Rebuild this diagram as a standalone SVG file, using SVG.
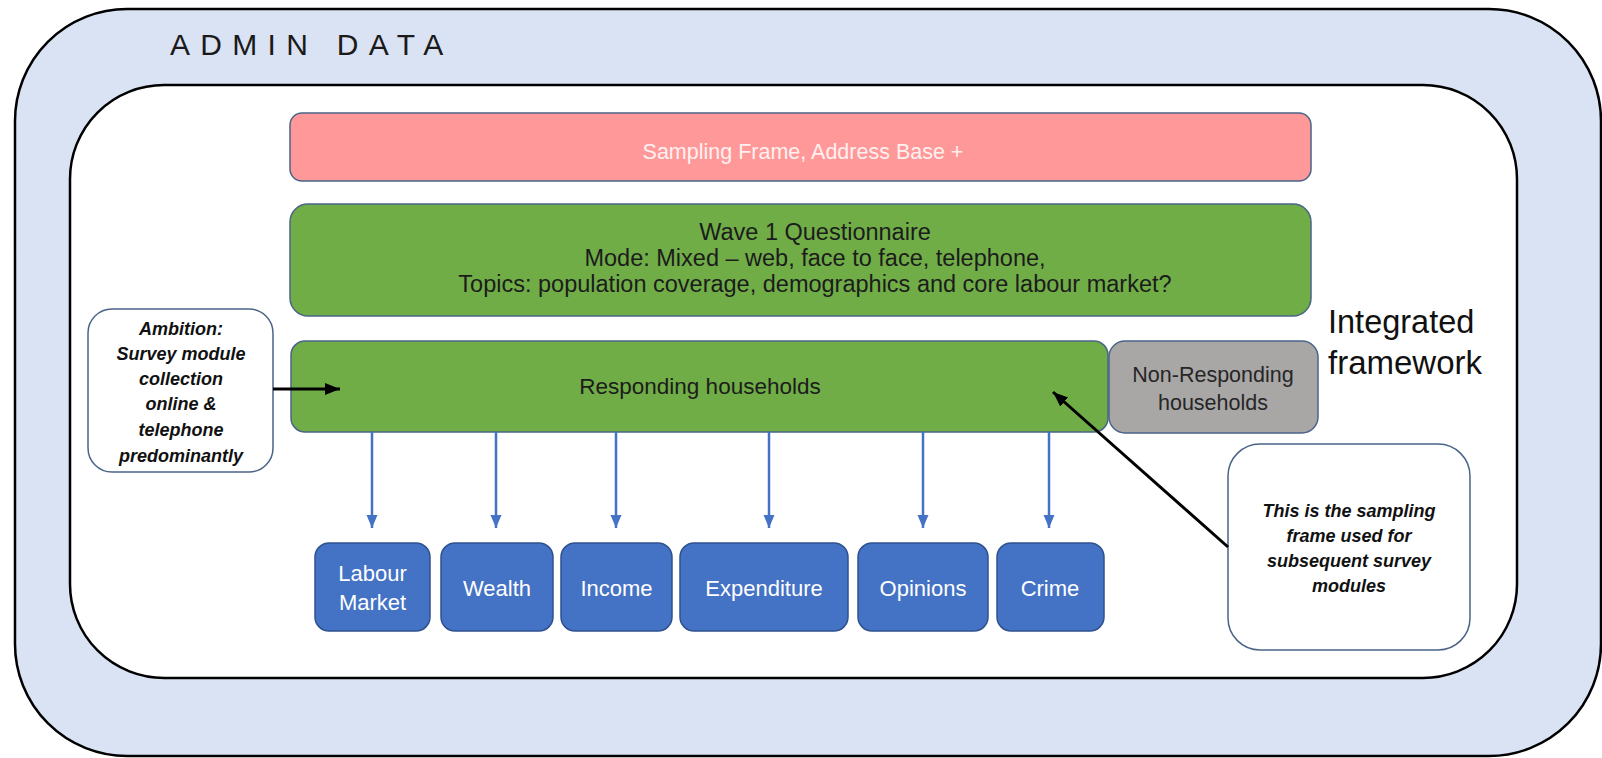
<svg xmlns="http://www.w3.org/2000/svg" width="1602" height="758" viewBox="0 0 1602 758">
<style>
.txt{font-family:"Liberation Sans",Arial,sans-serif}
.bar{stroke:#4a6488;stroke-width:1.5}
.mod{fill:#4472c4;stroke:#2f528f;stroke-width:1.5}
.modt{font-family:"Liberation Sans",Arial,sans-serif;font-size:22px;fill:#ffffff;text-anchor:middle}
.note{fill:#ffffff;stroke:#4a6488;stroke-width:1.5}
.notet{font-family:"Liberation Sans",Arial,sans-serif;font-size:18px;font-weight:bold;font-style:italic;fill:#111;text-anchor:middle}
.blue{stroke:#4472c4;stroke-width:2.5;fill:none}
.blk{stroke:#000;stroke-width:3;fill:none}
</style>
<defs>
<marker id="ab" markerUnits="userSpaceOnUse" markerWidth="14" markerHeight="14" viewBox="0 0 14 14" refX="13" refY="7" orient="auto">
<path d="M0,1.5 L13,7 L0,12.5 Z" fill="#4472c4"/>
</marker>
<marker id="ak" markerUnits="userSpaceOnUse" markerWidth="16" markerHeight="16" viewBox="0 0 16 16" refX="15" refY="8" orient="auto">
<path d="M0,2 L15,8 L0,14 Z" fill="#000"/>
</marker>
</defs>

<g id="admin-data">
<rect x="15" y="9" width="1586" height="747" rx="112" ry="112" fill="#dae3f3" stroke="#000" stroke-width="2.5"/>
<text class="txt" x="170" y="55" font-size="30" letter-spacing="10.3" fill="#1a1a1a">ADMIN DATA</text>
</g>

<g id="integrated-framework">
<rect x="70" y="85" width="1447" height="593" rx="94" ry="94" fill="#ffffff" stroke="#000" stroke-width="2.5"/>
<text class="txt" x="1328" y="333" font-size="32.5" fill="#111">Integrated</text>
<text class="txt" x="1328" y="374" font-size="33" fill="#111">framework</text>
</g>

<g id="sampling-frame">
<rect class="bar" x="290" y="113" width="1021" height="68" rx="12" fill="#ff9999"/>
<text class="txt" x="803" y="159" font-size="21.5" fill="#fff0f0" text-anchor="middle">Sampling Frame, Address Base +</text>
</g>

<g id="wave1">
<rect class="bar" x="290" y="204" width="1021" height="112" rx="18" fill="#70ad47"/>
<text class="txt" x="815" y="240" font-size="23.5" fill="#1c1c1c" text-anchor="middle">Wave 1 Questionnaire</text>
<text class="txt" x="815" y="266" font-size="23.5" fill="#1c1c1c" text-anchor="middle">Mode: Mixed – web, face to face, telephone,</text>
<text class="txt" x="815" y="292" font-size="23.5" fill="#1c1c1c" text-anchor="middle">Topics: population coverage, demographics and core labour market?</text>
</g>

<g id="responding">
<rect class="bar" x="291" y="341" width="817" height="91" rx="14" fill="#70ad47"/>
<text class="txt" x="700" y="394" font-size="22.5" fill="#1c1c1c" text-anchor="middle">Responding households</text>
</g>

<g id="non-responding">
<rect class="bar" x="1109" y="341" width="209" height="92" rx="16" fill="#a9a6a6"/>
<text class="txt" x="1213" y="382" font-size="21.5" fill="#262626" text-anchor="middle">Non-Responding</text>
<text class="txt" x="1213" y="410" font-size="21.5" fill="#262626" text-anchor="middle">households</text>
</g>

<g id="ambition">
<rect class="note" x="88" y="309" width="185" height="163" rx="24"/>
<text class="notet" x="181" y="335">Ambition:</text>
<text class="notet" x="181" y="360">Survey module</text>
<text class="notet" x="181" y="385">collection</text>
<text class="notet" x="181" y="410">online &amp;</text>
<text class="notet" x="181" y="436">telephone</text>
<text class="notet" x="181" y="462">predominantly</text>
</g>

<g id="sampling-note">
<rect class="note" x="1228" y="444" width="242" height="206" rx="32"/>
<text class="notet" x="1349" y="517">This is the sampling</text>
<text class="notet" x="1349" y="542">frame used for</text>
<text class="notet" x="1349" y="567">subsequent survey</text>
<text class="notet" x="1349" y="592">modules</text>
</g>

<g id="labour-market">
<rect class="mod" x="315" y="543" width="115" height="88" rx="14"/>
<text class="modt" x="372.5" y="581">Labour</text>
<text class="modt" x="372.5" y="610">Market</text>
</g>
<g id="wealth">
<rect class="mod" x="441" y="543" width="112" height="88" rx="14"/>
<text class="modt" x="497" y="596">Wealth</text>
</g>
<g id="income">
<rect class="mod" x="561" y="543" width="111" height="88" rx="14"/>
<text class="modt" x="616.5" y="596">Income</text>
</g>
<g id="expenditure">
<rect class="mod" x="680" y="543" width="168" height="88" rx="14"/>
<text class="modt" x="764" y="596">Expenditure</text>
</g>
<g id="opinions">
<rect class="mod" x="858" y="543" width="130" height="88" rx="14"/>
<text class="modt" x="923" y="596">Opinions</text>
</g>
<g id="crime">
<rect class="mod" x="997" y="543" width="107" height="88" rx="14"/>
<text class="modt" x="1050" y="596">Crime</text>
</g>

<g id="connectors">
<line class="blue" x1="372" y1="432" x2="372" y2="528" marker-end="url(#ab)"/>
<line class="blue" x1="496" y1="432" x2="496" y2="528" marker-end="url(#ab)"/>
<line class="blue" x1="616" y1="432" x2="616" y2="528" marker-end="url(#ab)"/>
<line class="blue" x1="769" y1="432" x2="769" y2="528" marker-end="url(#ab)"/>
<line class="blue" x1="923" y1="432" x2="923" y2="528" marker-end="url(#ab)"/>
<line class="blue" x1="1049" y1="432" x2="1049" y2="528" marker-end="url(#ab)"/>
<line class="blk" x1="273" y1="389" x2="340" y2="389" marker-end="url(#ak)"/>
<line class="blk" x1="1228" y1="547" x2="1053" y2="392" marker-end="url(#ak)"/>
</g>
</svg>
